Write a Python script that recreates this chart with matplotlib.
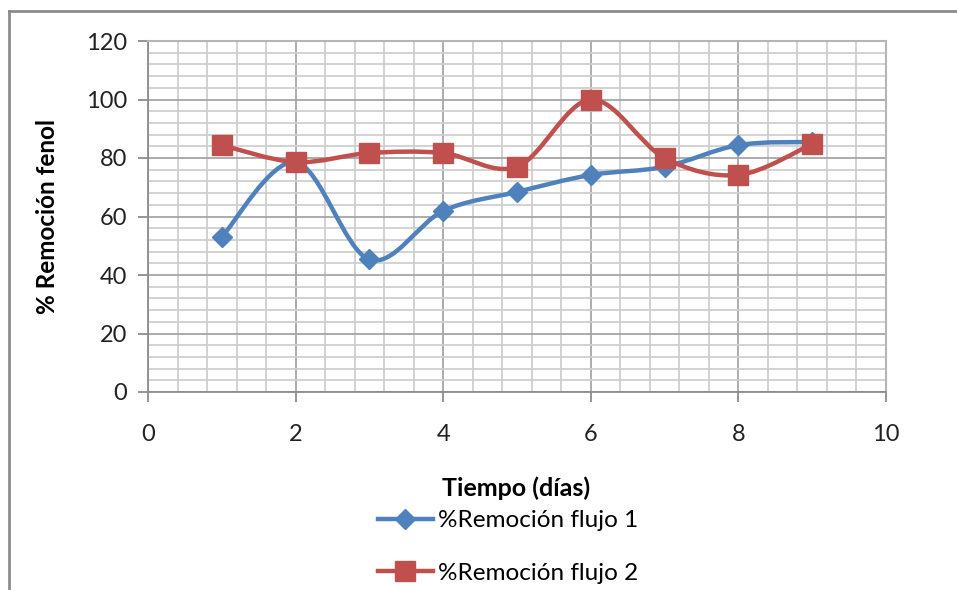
import matplotlib
matplotlib.use("Agg")
import matplotlib.pyplot as plt
import numpy as np
from matplotlib.path import Path
from matplotlib.patches import PathPatch
from matplotlib.lines import Line2D
from matplotlib.ticker import MultipleLocator

plt.rcParams['font.family'] = ['Lato', 'DejaVu Sans']

dias = [1, 2, 3, 4, 5, 6, 7, 8, 9]
flujo1 = [53, 78.6, 45.3, 61.9, 68.4, 74.2, 77.0, 84.4, 85.5]
flujo2 = [84.4, 78.6, 81.7, 81.7, 77.0, 100.0, 80.0, 74.2, 84.8]
label1 = "%Remoción flujo 1"
label2 = "%Remoción flujo 2"
xlabel = "Tiempo (días)"
ylabel = "% Remoción fenol"

blue = "#4F81BD"
red = "#C0504D"

W, H = 957, 590
fig = plt.figure(figsize=(W / 100, H / 100), dpi=100)

def fx(px):
    return px / W

def fy(py):
    return 1 - py / H

ax = fig.add_axes([fx(148), fy(392), fx(886) - fx(148), fy(41) - fy(392)])


def smooth_path(xs, ys):
    P = np.column_stack([xs, ys]).astype(float)
    n = len(P)
    verts = [P[0]]
    codes = [Path.MOVETO]
    for i in range(n - 1):
        p0 = P[i - 1] if i > 0 else P[i]
        p1 = P[i]
        p2 = P[i + 1]
        p3 = P[i + 2] if i + 2 < n else P[i + 1]
        c1 = p1 + (p2 - p0) / 6
        c2 = p2 - (p3 - p1) / 6
        verts += [c1, c2, p2]
        codes += [Path.CURVE4] * 3
    return Path(verts, codes)


for ys, col, mk, ms in [(flujo1, blue, 'D', 10.5), (flujo2, red, 's', 14)]:
    patch = PathPatch(smooth_path(dias, ys), facecolor='none', edgecolor=col,
                      lw=3.2, zorder=3, capstyle='round', joinstyle='round')
    ax.add_patch(patch)
    ax.plot(dias, ys, linestyle='none', marker=mk, markersize=ms, color=col,
            markeredgecolor=col, zorder=4)

ax.set_xlim(0, 10)
ax.set_ylim(0, 120)
ax.xaxis.set_major_locator(MultipleLocator(2))
ax.xaxis.set_minor_locator(MultipleLocator(0.4))
ax.yaxis.set_major_locator(MultipleLocator(20))
ax.yaxis.set_minor_locator(MultipleLocator(4))
ax.grid(which='major', color='#A6A6A6', lw=1.3, zorder=1)
ax.grid(which='minor', color='#CFCFCF', lw=1.3, zorder=0)
ax.set_axisbelow(True)
for s in ['top', 'right']:
    ax.spines[s].set_color('#B5B5B5')
    ax.spines[s].set_linewidth(1.5)
for s in ['left', 'bottom']:
    ax.spines[s].set_color('#8C8C8C')
    ax.spines[s].set_linewidth(1.3)
ax.tick_params(which='major', direction='out', length=7, width=1.3,
               color='#8C8C8C', labelsize=17, labelcolor='#222222', pad=8)
ax.tick_params(which='minor', length=0)
ax.tick_params(axis='x', pad=16)

fig.text(fx(516), fy(488), xlabel, ha='center', va='center',
         fontsize=18, fontweight='bold')
fig.text(fx(48), fy(216), ylabel, ha='center', va='center',
         fontsize=17.5, fontweight='bold', rotation=90)

handles = [Line2D([], [], color=blue, lw=3.2, marker='D', markersize=10.5),
           Line2D([], [], color=red, lw=3.2, marker='s', markersize=14)]
leg = fig.legend(handles, [label1, label2], loc='upper left',
                 bbox_to_anchor=(fx(378), fy(510)), frameon=False,
                 fontsize=17.5, handlelength=2.25, handletextpad=0.2,
                 labelspacing=1.3, borderaxespad=0, borderpad=0)

# outer chart border (top and left only visible)
fig.add_artist(Line2D([fx(9), 1], [fy(11), fy(11)], color='#8C8C8C', lw=2,
                      transform=fig.transFigure))
fig.add_artist(Line2D([fx(9), fx(9)], [fy(11), 0], color='#8C8C8C', lw=2,
                      transform=fig.transFigure))

fig.savefig("out.png", dpi=100)
